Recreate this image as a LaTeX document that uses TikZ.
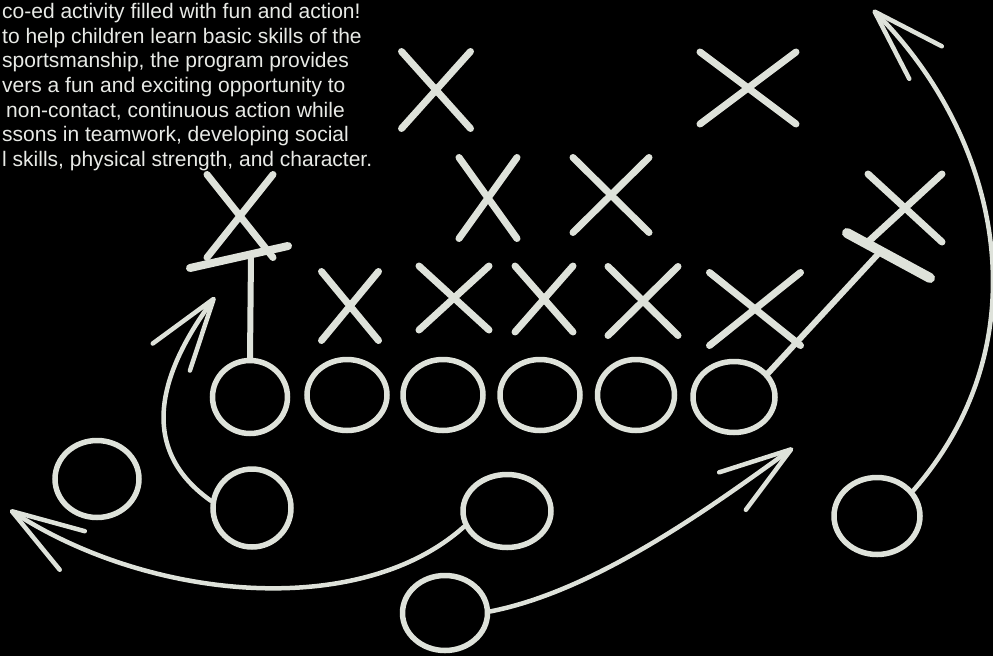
\documentclass[tikz,border=0pt]{standalone}
\usepackage{fontspec}
\newfontfamily\blurbfont{Liberation Sans}
\definecolor{chalk}{RGB}{222,226,218}
\definecolor{chalktext}{RGB}{232,234,230}
\usetikzlibrary{arrows.meta,positioning,shapes.geometric,shapes.misc}

\begin{document}
\begin{tikzpicture}[
  x=1pt, y=-1pt,
  blurb/.style={font=\blurbfont\fontsize{21}{24.7}\selectfont,text=chalktext,
                align=left,inner sep=0pt,anchor=north west},
  chalkline/.style={draw=chalk,line width=4.5pt,line cap=round,line join=round},
  player/.style={ellipse,draw=chalk,line width=5.5pt,inner sep=0pt,
                 minimum width=80pt,minimum height=71pt},
  rusher/.style={cross out,draw=chalk,line width=7pt,line cap=round,inner sep=0pt},
  blockbar/.style={chalkline,line width=8pt},
  route/.style={chalkline,-{Straight Barb[round,length=72pt,width=46pt]}},
]
  % board
  \fill[black] (0,0) rectangle (993,656);
  \useasboundingbox (0,0) rectangle (993,656);

  % text
  \node[blurb] (blurb) at (2,3) {%
    co-ed activity filled with fun and action!\\
    to help children learn basic skills of the\\
    sportsmanship, the program provides\\
    vers a fun and exciting opportunity to\\
    \hspace{4pt}non-contact, continuous action while\\
    ssons in teamwork, developing social\\
    l skills, physical strength, and character.};

  % defense
  \node[rusher,minimum width=62pt,minimum height=70pt] (d1) at (436,90) {};
  \node[rusher,minimum width=89pt,minimum height=65pt] (d2) at (748,88) {};
  \node[rusher,minimum width=51pt,minimum height=74pt] (d3) at (488,198) {};
  \node[rusher,minimum width=69pt,minimum height=68pt] (d4) at (611,195) {};
  \node[rusher,minimum width=59pt,minimum height=76pt] (d5) at (240,216) {};
  \node[rusher,minimum width=50pt,minimum height=62pt] (d6) at (350,306) {};
  \node[rusher,minimum width=63pt,minimum height=57pt] (d7) at (454,298) {};
  \node[rusher,minimum width=51pt,minimum height=59pt] (d8) at (544,299) {};
  \node[rusher,minimum width=63pt,minimum height=62pt] (d9) at (643,301) {};
  \node[rusher,minimum width=84pt,minimum height=66pt] (d10) at (755,309) {};
  \node[rusher,minimum width=67pt,minimum height=61pt] (d11) at (905,208) {};

  % offense line
  \node[player,minimum width=75pt,minimum height=73pt] (o1) at (250,397) {};
  \node[player] (o2) at (347,395) {};
  \node[player] (o3) at (443,395) {};
  \node[player] (o4) at (540,395) {};
  \node[player,minimum width=77pt] (o5) at (636,395) {};
  \node[player,minimum width=82pt] (o6) at (734,397) {};

  % backfield
  \node[player,minimum width=84pt,minimum height=77pt] (o7) at (97,479) {};
  \node[player,minimum width=78pt,minimum height=78pt] (o8) at (252,508) {};
  \node[player,minimum width=88pt,minimum height=73pt] (o9) at (507,511) {};
  \node[player,minimum width=85pt,minimum height=75pt] (o10) at (445,613) {};
  \node[player,minimum width=86pt,minimum height=77pt] (o11) at (877,516) {};

  % blocks
  \coordinate (blk1a) at (190,268);
  \coordinate (blk1b) at (288,246);
  \coordinate (blk1) at (251,256);
  \coordinate (blk2a) at (847,233);
  \coordinate (blk2b) at (930,278);
  \coordinate (blk2) at (880,252);
  \draw[blockbar] (blk1a) -- (blk1b);
  \draw[blockbar,line width=10pt] (blk2a) -- (blk2b);
  \draw[chalkline,line width=6pt] (o1.north) -- (blk1);
  \draw[chalkline,line width=6pt] (o6.35) -- (blk2);

  % routes
  \coordinate (tipU) at (215,297);
  \coordinate (tipL) at (10,510);
  \coordinate (tipB) at (793,448);
  \coordinate (tipR) at (873,10);
  \draw[route] (o8.170) .. controls (125,440) and (175,352) .. (tipU);
  \draw[route] (o9.200) .. controls (360,620) and (150,601) .. (tipL);
  \draw[route] (o10.2) .. controls (600,590) and (720,500) .. (tipB);
  \draw[route] (o11.35) .. controls (1045,340) and (1000,137) .. (tipR);
\end{tikzpicture}
\end{document}
